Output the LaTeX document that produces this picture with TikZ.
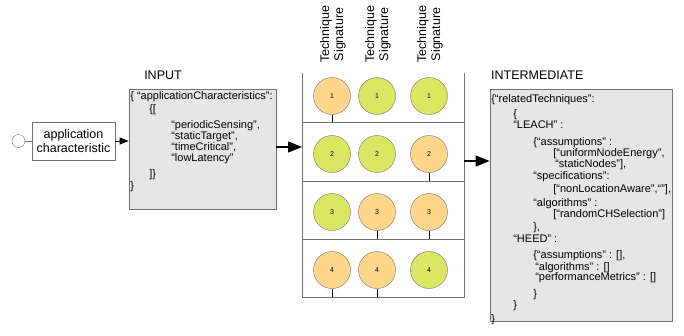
\documentclass[tikz,border=0pt]{standalone}
\usepackage{fontspec}
\setmainfont{Liberation Sans}
\usetikzlibrary{arrows.meta}

\definecolor{sigorange}{HTML}{FFD68A}
\definecolor{siggreen}{HTML}{D9E862}
\definecolor{boxgray}{HTML}{E6E6E6}
\definecolor{linegray}{HTML}{707070}

\newcommand{\jsonfont}{\fontsize{11}{11}\selectfont\lineskiplimit -20pt\relax}

\tikzset{
  sig/.style={circle, draw=linegray, minimum size=37pt, inner sep=0pt, font=\fontsize{7}{8}\selectfont},
  sigok/.style={sig, fill=siggreen},
  sigmiss/.style={sig, fill=sigorange},
  jsonbox/.style={draw=linegray, fill=boxgray, line width=0.8pt, inner sep=0pt},
  jsontext/.style={anchor=north west, align=left, inner xsep=1.5pt, inner ysep=1pt, font=\jsonfont},
  title/.style={inner sep=1pt, font=\fontsize{12.5}{14}\selectfont},
  header/.style={rotate=90, anchor=west, align=center, inner sep=0pt, font=\fontsize{12.5}{14}\selectfont},
  tick/.style={line width=0.9pt},
  bigarrow/.style={line width=1.4pt, -{Triangle[length=14pt,width=11pt]}},
  smallarrow/.style={line width=0.9pt, -{Triangle[length=9pt,width=7pt]}}
}

\begin{document}
\begin{tikzpicture}[x=1pt, y=-1pt]
\useasboundingbox (0,0) rectangle (684,335);

% start and application characteristic
\node (start) [circle, draw=linegray, minimum size=13pt, inner sep=0pt] at (18.5,141) {};
\node (app) [draw=linegray, line width=0.9pt, minimum width=83pt, minimum height=38pt, align=center, inner sep=0pt, font=\fontsize{12.5}{14}\selectfont] at (73.5,141) {application\\characteristic};
\draw[linegray, line width=0.8pt] (start) -- (app);

% input
\node (inputlabel) [title] at (163,75) {INPUT};
\node (input) [jsonbox, minimum width=147pt, minimum height=120pt] at (202.5,149) {};
\node (inputtext) [jsontext, yshift=-2pt] at (input.north west) {%
\hspace*{0pt}\{ “applicationCharacteristics”:\\[2pt]
\hspace*{19pt}\{[\\[5pt]
\hspace*{41pt}“periodicSensing”,\\
\hspace*{41pt}“staticTarget”,\\
\hspace*{41pt}“timeCritical”,\\
\hspace*{41pt}“lowLatency”\\[5pt]
\hspace*{19pt}]\}\\[1pt]
\hspace*{0pt}\}};
\draw[smallarrow] (app.east) -- (app.east -| input.west);

% technique signatures
\node (head1) [header] at (333,63) {Technique\\Signature};
\node (head2) [header] at (378,63) {Technique\\Signature};
\node (head3) [header] at (430,63) {Technique\\Signature};

\draw[linegray, line width=0.8pt] (302,73) -- (302,297) -- (464,297) -- (464,73);
\draw[linegray, line width=0.8pt] (302,122) -- (464,122);
\draw[linegray, line width=0.8pt] (302,181) -- (464,181);
\draw[linegray, line width=0.8pt] (302,239) -- (464,239);
\coordinate (row1) at (302,122);
\coordinate (row2) at (302,181);
\coordinate (row3) at (302,239);
\coordinate (row4) at (302,297);

\node (s11) [sigmiss] at (332,96) {1};
\node (s12) [sigok] at (377,96) {1};
\node (s13) [sigok] at (429,96) {1};
\node (s21) [sigok] at (332,154) {2};
\node (s22) [sigok] at (377,154) {2};
\node (s23) [sigmiss] at (429,154) {2};
\node (s31) [sigok] at (332,212) {3};
\node (s32) [sigmiss] at (377,212) {3};
\node (s33) [sigmiss] at (429,212) {3};
\node (s41) [sigmiss] at (332,270) {4};
\node (s42) [sigmiss] at (377,270) {4};
\node (s43) [sigok] at (429,270) {4};

\draw[tick] (s11) -- (s11 |- row1);
\draw[tick] (s23) -- (s23 |- row2);
\draw[tick] (s32) -- (s32 |- row3);
\draw[tick] (s33) -- (s33 |- row3);
\draw[tick] (s41) -- (s41 |- row4);
\draw[tick] (s42) -- (s42 |- row4);

\coordinate (tblin) at (302,147);
\coordinate (tblout) at (464,161);
\draw[bigarrow] (tblin -| input.east) -- (tblin);

% intermediate
\node (interlabel) [title, anchor=west] at (490,75) {INTERMEDIATE};
\node (inter) [jsonbox, minimum width=182pt, minimum height=232pt] at (581,205) {};
\node (intertext) [jsontext, yshift=-5pt] at (inter.north west) {%
\hspace*{0pt}\{“relatedTechniques”:\\[4pt]
\hspace*{22pt}\{\\
\hspace*{22pt}“LEACH” :\\[6pt]
\hspace*{42pt}\{“assumptions” :\\
\hspace*{62pt}[“uniformNodeEnergy”,\\
\hspace*{64pt}“staticNodes”],\\[1pt]
\hspace*{42pt}“specifications”:\\[2pt]
\hspace*{62pt}[“nonLocationAware”,“”],\\[3pt]
\hspace*{42pt}“algorithms” :\\
\hspace*{62pt}[“randomCHSelection”]\\[2pt]
\hspace*{42pt}\},\\[1pt]
\hspace*{22pt}“HEED” :\\[5pt]
\hspace*{42pt}\{“assumptions” : [],\\[1pt]
\hspace*{44pt}“algorithms” : []\\[-1pt]
\hspace*{44pt}“performanceMetrics” : []\\[6pt]
\hspace*{42pt}\}\\
\hspace*{22pt}\}\\[3pt]
\hspace*{0pt}\}};
\draw[bigarrow] (tblout) -- (tblout -| inter.west);
\end{tikzpicture}
\end{document}
